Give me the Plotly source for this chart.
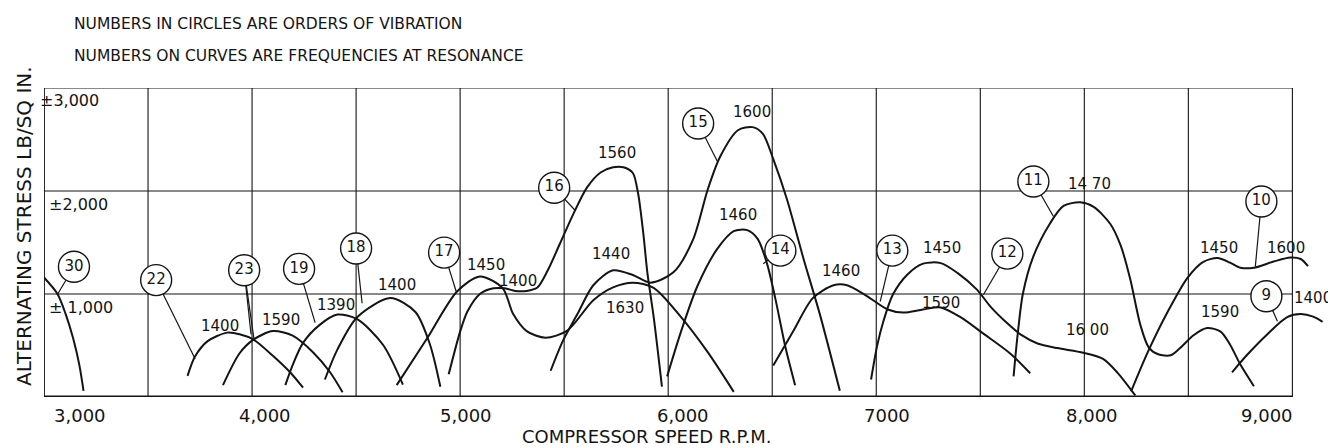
import plotly.graph_objects as go

# ---------------- axes / grid ----------------
x_ticks = [3000, 4000, 5000, 6000, 7000, 8000, 9000]
x_tick_labels = ["3,000", "4,000", "5,000", "6,000", "7000", "8,000", "9,000"]
x_tick_label_rpm = [3173, 4062, 5028, 6071, 7052, 8037, 8878]   # hand-lettered label centres
x_grid = [3000, 3500, 4000, 4500, 5000, 5500, 6000, 6500, 7000, 7500, 8000, 8500, 9000]
y_grid = [0, 1000, 2000, 3000]
y_tick_values = [3000, 2000, 1000]
y_tick_labels = ["±3,000", "±2,000", "± 1,000"]

# ---------------- curves (rpm, alternating stress lb/sq in) ----------------
o30_rpm = [3000, 3065, 3105, 3140, 3170, 3190]
o30_s = [1160, 1000, 800, 570, 310, 60]

o22_rpm = [3690, 3725, 3785, 3880, 3940, 4005, 4100, 4185, 4245]
o22_s = [205, 390, 540, 625, 610, 560, 400, 235, 90]

o23_rpm = [3860, 3940, 4005, 4100, 4195, 4295, 4375, 4435]
o23_s = [115, 425, 555, 640, 595, 430, 240, 45]

o19_rpm = [4160, 4195, 4245, 4325, 4410, 4505, 4630, 4725]
o19_s = [115, 310, 525, 700, 800, 755, 505, 120]

o18_rpm = [4350, 4410, 4505, 4665, 4785, 4855, 4905]
o18_s = [170, 460, 775, 960, 825, 510, 100]

o17_rpm = [4695, 4840, 4985, 5095, 5205, 5255, 5320, 5410, 5515, 5640, 5735, 5830, 5930, 6060, 6190, 6315]
o17_s = [115, 565, 1025, 1170, 1055, 805, 640, 575, 645, 940, 1065, 1110, 1060, 780, 435, 50]

o16_rpm = [4945, 5000, 5035, 5095, 5160, 5215, 5265, 5320, 5370, 5420, 5480, 5545, 5610, 5675,
           5735, 5785, 5830, 5855, 5880, 5900, 5930, 5970]
o16_s = [220, 635, 830, 1000, 1055, 1055, 1030, 1030, 1060, 1225, 1490, 1780, 2035, 2180,
         2230, 2230, 2175, 1980, 1595, 1205, 780, 100]

o15_rpm = [5435, 5495, 5565, 5640, 5735, 5830, 5915, 6025, 6120, 6190, 6250, 6335, 6405, 6455,
           6505, 6570, 6650, 6730, 6825]
o15_s = [255, 550, 810, 1085, 1230, 1185, 1110, 1210, 1530, 2015, 2335, 2590, 2620, 2555,
         2310, 1925, 1345, 795, 60]

o14_rpm = [5995, 6060, 6140, 6235, 6315, 6380, 6430, 6475, 6515, 6565, 6610]
o14_s = [200, 625, 1075, 1435, 1610, 1620, 1535, 1295, 955, 470, 115]

o13_rpm = [6505, 6600, 6695, 6795, 6860, 6955, 7055, 7130, 7225, 7310, 7405, 7515, 7645, 7740]
o13_s = [305, 635, 960, 1085, 1085, 980, 850, 820, 850, 870, 775, 615, 420, 230]

o12_rpm = [6975, 7005, 7035, 7080, 7150, 7225, 7310, 7390, 7485, 7550, 7630, 7695, 7775, 7870,
           7995, 8090, 8160, 8245]
o12_s = [170, 505, 740, 995, 1190, 1295, 1300, 1205, 1040, 875, 715, 605, 520, 475,
         430, 370, 235, 15]

o11_rpm = [7660, 7680, 7705, 7755, 7835, 7900, 7980, 8045, 8125, 8175, 8220, 8270, 8310, 8355,
           8415, 8460, 8525, 8590, 8655, 8700, 8750, 8815]
o11_s = [200, 615, 1005, 1365, 1685, 1855, 1890, 1845, 1680, 1470, 1150, 695, 480, 415,
         405, 475, 600, 670, 635, 510, 315, 105]

o10_rpm = [8225, 8305, 8400, 8495, 8570, 8640, 8700, 8750, 8815, 8910, 8990, 9040, 9075]
o10_s = [55, 435, 825, 1155, 1310, 1350, 1305, 1255, 1255, 1315, 1355, 1340, 1270]

o9_rpm = [8710, 8785, 8880, 8975, 9040, 9100, 9145]
o9_s = [240, 415, 610, 775, 805, 780, 730]

curves = [
    (o30_rpm, o30_s), (o22_rpm, o22_s), (o23_rpm, o23_s), (o19_rpm, o19_s),
    (o18_rpm, o18_s), (o17_rpm, o17_s), (o16_rpm, o16_s), (o15_rpm, o15_s),
    (o14_rpm, o14_s), (o13_rpm, o13_s), (o12_rpm, o12_s), (o11_rpm, o11_s),
    (o10_rpm, o10_s), (o9_rpm, o9_s),
]

# ---------------- circled orders of vibration ----------------
circle_text = ["30", "22", "23", "19", "18", "17", "16", "15", "14", "13", "12", "11", "10", "9"]
circle_rpm = [3144, 3539, 3962, 4226, 4500, 4923, 5452, 6144, 6539, 7077, 7630, 7755, 8851, 8875]
circle_s = [1264, 1135, 1230, 1244, 1442, 1402, 2032, 2656, 1421, 1421, 1392, 2092, 1898, 978]

# leader lines: circle index -> point on curve
leader_circle = [0, 1, 2, 2, 3, 4, 5, 6, 7, 8, 9, 10, 11, 12, 13]
leader_rpm = [3063, 3726, 3995, 4010, 4303, 4529, 4981, 5553, 6236, 6457, 7019, 7515, 7851, 8822, 8928]
leader_s = [990, 372, 609, 551, 722, 910, 1024, 1811, 2288, 1293, 925, 992, 1755, 1268, 736]

# ---------------- frequencies at resonance ----------------
freq_text = ["1400", "1590", "1390", "1400", "1450", "1400", "1560", "1440", "1630", "1600",
             "1460", "1460", "1450", "1590", "16 00", "14 70", "1450", "1600", "1590", "1400"]
freq_rpm = [3846, 4140, 4404, 4697, 5125, 5279, 5755, 5726, 5793, 6404,
            6337, 6832, 7318, 7313, 8015, 8024, 8645, 8967, 8650, 9101]
freq_s = [694, 747, 898, 1087, 1279, 1127, 2367, 1386, 864, 2766,
          1766, 1222, 1444, 911, 652, 2068, 1448, 1444, 827, 961]

INK = "#141414"
FONT = "DejaVu Sans"

fig = go.Figure()

# curves
for rx, sy in curves:
    fig.add_trace(go.Scatter(x=rx, y=sy, mode="lines",
                             line=dict(color=INK, width=2, shape="spline", smoothing=0.8),
                             hoverinfo="skip", showlegend=False))

# leaders
lx, ly = [], []
for ci, r, s in zip(leader_circle, leader_rpm, leader_s):
    lx += [circle_rpm[ci], r, None]
    ly += [circle_s[ci], s, None]
fig.add_trace(go.Scatter(x=lx, y=ly, mode="lines", line=dict(color=INK, width=1.2),
                         hoverinfo="skip", showlegend=False))

# circles
fig.add_trace(go.Scatter(x=circle_rpm, y=circle_s, mode="markers+text", text=circle_text,
                         textposition="middle center",
                         textfont=dict(family=FONT, size=15, color=INK),
                         marker=dict(size=31, color="white", line=dict(color=INK, width=1.4)),
                         hoverinfo="skip", showlegend=False, cliponaxis=False))

shapes = []
for gx in x_grid:
    w = 1.8 if gx == 3000 else 1.1
    shapes.append(dict(type="line", xref="x", yref="y", x0=gx, x1=gx, y0=0, y1=3000,
                       line=dict(color=INK, width=w), layer="below"))
for gy in y_grid:
    w = 2.8 if gy == 0 else 1.2
    shapes.append(dict(type="line", xref="x", yref="y", x0=3000, x1=9000, y0=gy, y1=gy,
                       line=dict(color=INK, width=w), layer="below"))

annotations = []
for t, r, s in zip(freq_text, freq_rpm, freq_s):
    annotations.append(dict(x=r, y=s, xref="x", yref="y", text=t, showarrow=False,
                            font=dict(family=FONT, size=15, color=INK)))
for t, r in zip(x_tick_labels, x_tick_label_rpm):
    annotations.append(dict(x=r, y=0, xref="x", yref="y", text=t, showarrow=False,
                            yanchor="middle", yshift=-18,
                            font=dict(family=FONT, size=18, color=INK)))
for t, v, xs, ys in zip(y_tick_labels, y_tick_values, [-6, 3, 3], [-12, -13, -13]):
    annotations.append(dict(x=3000, y=v, xref="x", yref="y", text=t, showarrow=False,
                            xanchor="left", yanchor="middle", xshift=xs, yshift=ys,
                            font=dict(family=FONT, size=16, color=INK)))

annotations += [
    dict(x=0.0217, y=1.2071, xref="paper", yref="paper", xanchor="left", yanchor="middle",
         text="NUMBERS IN CIRCLES ARE ORDERS OF VIBRATION", showarrow=False,
         font=dict(family=FONT, size=15.5, color=INK)),
    dict(x=0.0217, y=1.1036, xref="paper", yref="paper", xanchor="left", yanchor="middle",
         text="NUMBERS ON CURVES ARE FREQUENCIES AT RESONANCE", showarrow=False,
         font=dict(family=FONT, size=15.5, color=INK)),
    dict(x=0.4667, y=-0.1294, xref="paper", yref="paper", xanchor="center", yanchor="middle",
         text="COMPRESSOR SPEED R.P.M.", showarrow=False,
         font=dict(family=FONT, size=18, color=INK)),
    dict(x=-0.0155, y=0.5534, xref="paper", yref="paper", xanchor="center", yanchor="middle",
         text="ALTERNATING STRESS LB/SQ IN.", textangle=-90, showarrow=False,
         font=dict(family=FONT, size=20, color=INK)),
]

# the page body keeps its default 8 px margin, so the figure is 8 px smaller
# and the margins are reduced by 8 px on the left and top
fig.update_layout(
    width=1328, height=440,
    margin=dict(l=36, r=2, t=80, b=51),
    paper_bgcolor="white", plot_bgcolor="white",
    xaxis=dict(range=[3000, 9200], visible=False),
    yaxis=dict(range=[0, 3000], visible=False),
    shapes=shapes, annotations=annotations, showlegend=False,
)

fig.write_html("out.html")
